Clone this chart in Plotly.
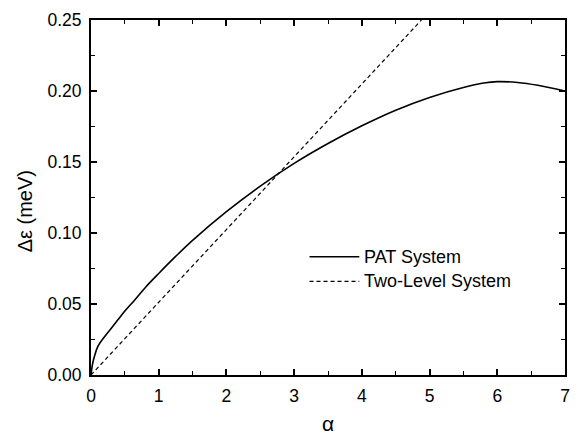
import plotly.graph_objects as go

# PAT System curve
alpha_pat = [0, 0.02, 0.05, 0.1, 0.2, 0.3, 0.4, 0.5, 0.64, 0.8, 1.0, 1.25, 1.5, 2.0, 2.5,
             3.0, 3.5, 4.0, 4.5, 5.0, 5.5, 5.8, 6.0, 6.3, 6.6, 7.0]
de_pat = [0, 0.007, 0.013, 0.020, 0.027, 0.033, 0.039, 0.045, 0.0525, 0.0615, 0.0715, 0.0835, 0.0948,
          0.1150, 0.1330, 0.1490, 0.1630, 0.1755, 0.1865, 0.1955, 0.2025, 0.2056, 0.2066, 0.2060, 0.2040, 0.200]

# Two-Level System (straight line)
alpha_tls = [0, 4.88]
de_tls = [0, 0.25]

x_ticks = [0, 1, 2, 3, 4, 5, 6, 7]
y_ticks = [0.00, 0.05, 0.10, 0.15, 0.20, 0.25]

FONT = "Liberation Sans, Arial, sans-serif"

fig = go.Figure()
fig.add_trace(go.Scatter(x=alpha_pat, y=de_pat, mode="lines", name="PAT System",
                         line=dict(color="black", width=1.6, shape="spline", smoothing=1.0),
                         showlegend=False))
fig.add_trace(go.Scatter(x=alpha_tls, y=de_tls, mode="lines", name="Two-Level System",
                         line=dict(color="black", width=1.2, dash="4px,3px"),
                         showlegend=False))

axis_common = dict(showline=True, linecolor="black", linewidth=2, mirror="ticks",
                   ticks="inside", ticklen=6, tickwidth=1.5, tickcolor="black",
                   showgrid=False, zeroline=False,
                   tickfont=dict(family=FONT, size=17.5, color="black"))

fig.update_xaxes(range=[0, 7], tickvals=x_ticks, ticktext=[str(v) for v in x_ticks],
                 minor=dict(dtick=0.5, ticks="inside", ticklen=4, tickwidth=1.2, tickcolor="black"),
                 ticklabelstandoff=4, **axis_common)
fig.update_yaxes(range=[0, 0.25], tickvals=y_ticks, ticktext=[f"{v:.2f}" for v in y_ticks],
                 minor=dict(dtick=0.025, ticks="inside", ticklen=4, tickwidth=1.2, tickcolor="black"),
                 ticklabelstandoff=4, **axis_common)

# Manual legend
legend_items = [("PAT System", "solid", 1.6, 0.333), ("Two-Level System", "4px,3px", 1.2, 0.264)]
shapes = []
annotations = []
for label, dash, w, yp in legend_items:
    shapes.append(dict(type="line", xref="paper", yref="paper", x0=0.461, x1=0.566, y0=yp, y1=yp,
                       line=dict(color="black", width=w, dash=dash)))
    annotations.append(dict(text=label, xref="paper", yref="paper", x=0.572, y=yp,
                            xanchor="left", yanchor="middle", showarrow=False,
                            font=dict(family=FONT, size=18, color="black")))

annotations.append(dict(text="α", xref="paper", yref="paper", x=0.5, y=-0.138,
                        xanchor="center", yanchor="middle", showarrow=False,
                        font=dict(family=FONT, size=21, color="black")))
annotations.append(dict(text="Δε (meV)", xref="paper", yref="paper", x=-0.14, y=0.46,
                        xanchor="center", yanchor="middle", showarrow=False, textangle=-90,
                        font=dict(family=FONT, size=20, color="black")))

fig.update_layout(width=580, height=439, margin=dict(l=91, r=10, t=12, b=64),
                  plot_bgcolor="white", paper_bgcolor="white",
                  shapes=shapes, annotations=annotations)

fig.write_html("out.html")
